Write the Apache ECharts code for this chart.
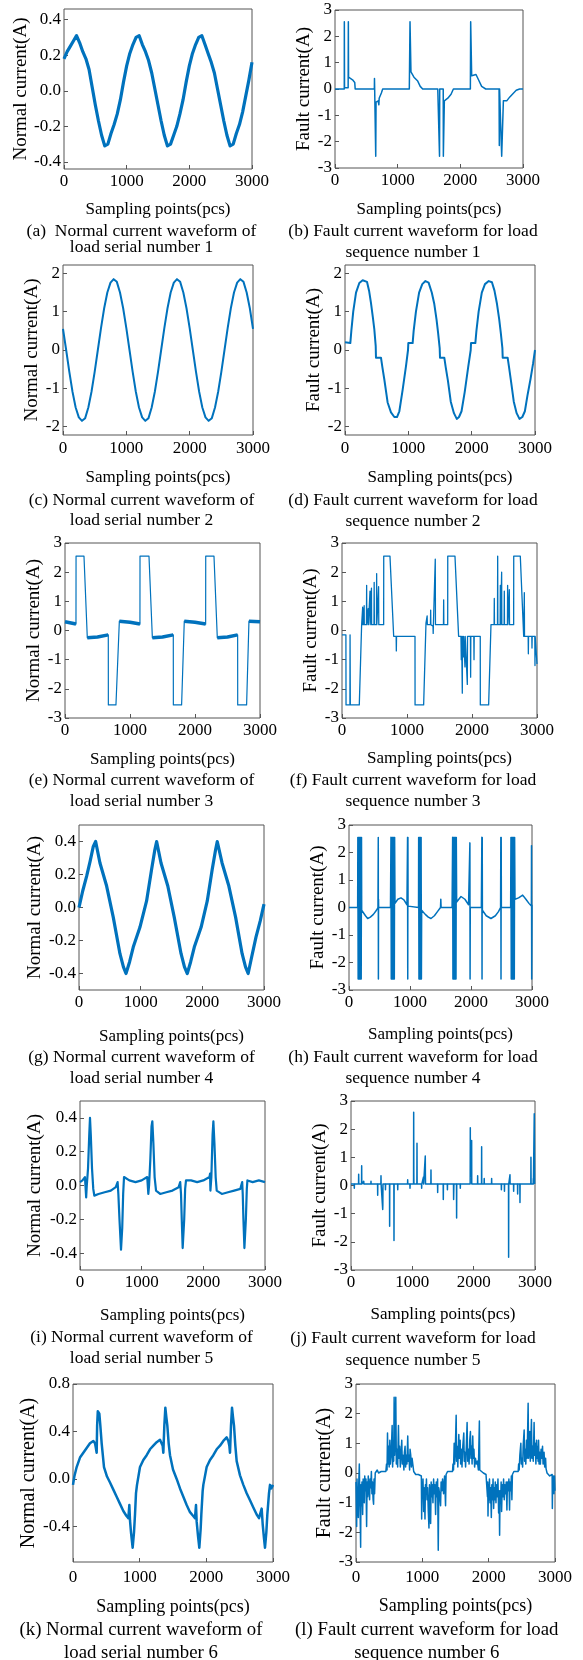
<!DOCTYPE html>
<html><head><meta charset="utf-8">
<script src="https://cdn.jsdelivr.net/npm/echarts@6/dist/echarts.min.js"></script>
<style>html,body{margin:0;padding:0;background:#fff}#chart{width:583px;height:1660px}</style>
</head><body><div id="chart"></div>
<script>
// ---------- tick labels ----------
const xTicks = [0, 1000, 2000, 3000];
const yTicksSmall = [-0.4, -0.2, 0, 0.2, 0.4];
const yTicksFault = [-3, -2, -1, 0, 1, 2, 3];
const yTicksTwo = [-2, -1, 0, 1, 2];
const yTicksSix = [-0.4, 0, 0.4, 0.8];

// ---------- captions ----------
const captionsLeft = [
  ['(a)  Normal current waveform of', 'load serial number 1'],
  ['(c) Normal current waveform of', 'load serial number 2'],
  ['(e) Normal current waveform of', 'load serial number 3'],
  ['(g) Normal current waveform of', 'load serial number 4'],
  ['(i) Normal current waveform of', 'load serial number 5'],
  ['(k) Normal current waveform of', 'load serial number 6']
];
const captionsRight = [
  ['(b) Fault current waveform for load', 'sequence number 1'],
  ['(d) Fault current waveform for load', 'sequence number 2'],
  ['(f) Fault current waveform for load', 'sequence number 3'],
  ['(h) Fault current waveform for load', 'sequence number 4'],
  ['(j) Fault current waveform for load', 'sequence number 5'],
  ['(l) Fault current waveform for load', 'sequence number 6']
];

// ---------- series values ([sample, current]) ----------
const normal1 = [[0,0.18],[50,0.22],[100,0.25],[150,0.28],[200,0.31],[250,0.27],[300,0.22],[350,0.18],[400,0.12],[450,0.02],[500,-0.08],[550,-0.17],[600,-0.25],[650,-0.31],[700,-0.30],[750,-0.24],[800,-0.19],[850,-0.13],[900,-0.05],[950,0.05],[1000,0.14],[1050,0.21],[1100,0.26],[1150,0.30],[1200,0.31],[1250,0.26],[1300,0.22],[1350,0.17],[1400,0.10],[1450,0.01],[1500,-0.08],[1550,-0.17],[1600,-0.25],[1650,-0.31],[1700,-0.30],[1750,-0.25],[1800,-0.20],[1850,-0.13],[1900,-0.05],[1950,0.05],[2000,0.14],[2050,0.21],[2100,0.26],[2150,0.30],[2200,0.31],[2250,0.26],[2300,0.21],[2350,0.16],[2400,0.10],[2450,0.01],[2500,-0.08],[2550,-0.17],[2600,-0.25],[2650,-0.31],[2700,-0.30],[2750,-0.24],[2800,-0.19],[2850,-0.12],[2900,-0.03],[2950,0.06],[3000,0.16]];

const fault1 = [[0,0],[148,0],[149,2.55],[152,0.05],[210,0.05],[213,2.55],[216,0.45],[245,0.45],[280,0.35],[315,0.25],[318,0.3],[322,0.0],[335,0],[628,0],[630,0.4],[633,0],[650,-2.55],[655,-0.5],[690,-0.45],[700,-0.6],[705,-0.35],[740,-0.15],[761,0],[1186,0],[1197,2.55],[1212,0.65],[1260,0.45],[1320,0.3],[1360,0.1],[1399,0],[1640,0],[1668,-2.55],[1671,0],[1727,0],[1729,-2.55],[1745,-0.45],[1800,-0.35],[1852,-0.2],[1889,0],[2160,0],[2165,2.55],[2181,0.5],[2250,0.55],[2290,0.35],[2340,0.1],[2405,0],[2618,0],[2622,-2.15],[2626,0],[2656,0],[2660,-2.55],[2687,-0.45],[2740,-0.45],[2790,-0.3],[2850,-0.15],[2892,-0.05],[2946,0],[3000,0]];

const normal2 = [[0,0.55],[50,0.0],[100,-0.57],[150,-1.09],[200,-1.5],[250,-1.76],[300,-1.85],[350,-1.78],[400,-1.5],[450,-1.09],[500,-0.57],[550,0.0],[600,0.57],[650,1.09],[700,1.5],[750,1.76],[800,1.85],[850,1.78],[900,1.5],[950,1.09],[1000,0.57],[1050,0.0],[1100,-0.57],[1150,-1.09],[1200,-1.5],[1250,-1.76],[1300,-1.85],[1350,-1.78],[1400,-1.5],[1450,-1.09],[1500,-0.57],[1550,0.0],[1600,0.57],[1650,1.09],[1700,1.5],[1750,1.76],[1800,1.85],[1850,1.78],[1900,1.5],[1950,1.09],[2000,0.57],[2050,0.0],[2100,-0.57],[2150,-1.09],[2200,-1.5],[2250,-1.76],[2300,-1.85],[2350,-1.78],[2400,-1.5],[2450,-1.09],[2500,-0.57],[2550,0.0],[2600,0.57],[2650,1.09],[2700,1.5],[2750,1.76],[2800,1.85],[2850,1.78],[2900,1.5],[2950,1.09],[3000,0.55]];

const fault2 = [[0,0.2],[10,0.18],[84,0.18],[100,0.5],[130,1.0],[174,1.5],[226,1.75],[279,1.82],[347,1.78],[380,1.55],[410,1.23],[440,0.85],[463,0.54],[485,0.1],[489,-0.2],[568,-0.2],[590,-0.45],[621,-0.77],[673,-1.37],[726,-1.63],[779,-1.75],[821,-1.75],[858,-1.6],[910,-1.04],[963,-0.42],[995,0.0],[1000,0.18],[1068,0.18],[1084,0.5],[1120,1.0],[1170,1.5],[1220,1.72],[1270,1.8],[1320,1.76],[1370,1.5],[1410,1.2],[1445,0.8],[1470,0.45],[1495,0.05],[1500,-0.2],[1568,-0.2],[1590,-0.45],[1625,-0.8],[1670,-1.35],[1720,-1.65],[1765,-1.8],[1800,-1.75],[1840,-1.6],[1890,-1.1],[1945,-0.45],[1985,0.0],[1990,0.18],[2058,0.18],[2075,0.5],[2110,1.0],[2160,1.5],[2210,1.72],[2270,1.8],[2320,1.77],[2360,1.55],[2400,1.2],[2435,0.8],[2460,0.45],[2485,0.05],[2490,-0.2],[2568,-0.2],[2590,-0.45],[2620,-0.8],[2665,-1.35],[2710,-1.65],[2755,-1.8],[2800,-1.75],[2840,-1.6],[2880,-1.2],[2930,-0.75],[2970,-0.35],[3000,0.0]];

const normal3 = [[0,0.3],[20,0.25],[169,0.22],[170,2.55],[292,2.55],[343,-0.25],[500,-0.22],[666,-0.15],[667,-2.55],[784,-2.55],[836,0.32],[1000,0.28],[1153,0.22],[1154,2.55],[1292,2.55],[1344,-0.25],[1500,-0.22],[1666,-0.15],[1667,-2.55],[1794,-2.55],[1835,0.32],[2000,0.28],[2164,0.22],[2165,2.55],[2292,2.55],[2343,-0.25],[2500,-0.22],[2656,-0.15],[2657,-2.55],[2794,-2.55],[2830,0.32],[3000,0.3]];
// noisy plateaus of load 3 (drawn as a thicker band)
const normal3Noisy = [
  [[0,0.3],[20,0.25],[169,0.22]],
  [[343,-0.25],[500,-0.22],[666,-0.15]],
  [[836,0.32],[1000,0.28],[1153,0.22]],
  [[1344,-0.25],[1500,-0.22],[1666,-0.15]],
  [[1835,0.32],[2000,0.28],[2164,0.22]],
  [[2343,-0.25],[2500,-0.22],[2656,-0.15]],
  [[2830,0.32],[3000,0.3]]
];

const fault3 = [[0,-0.15],[60,-0.15],[62,-2.55],[122,-2.55],[124,-0.15],[126,-0.15],[128,-2.55],[266,-2.55],[302,0.2],[316,0.2],[318,0.8],[320,0.2],[330,0.2],[333,0.75],[336,0.2],[339,0.2],[341,0.85],[343,0.2],[376,0.2],[379,1.55],[382,0.2],[400,0.2],[403,0.75],[406,0.2],[428,0.2],[431,1.35],[434,0.2],[450,0.2],[453,1.45],[456,0.2],[492,0.2],[495,1.65],[498,0.2],[530,0.2],[533,1.95],[536,0.2],[560,0.2],[563,1.5],[566,0.2],[641,0.2],[642,2.55],[738,2.55],[795,-0.2],[833,-0.2],[836,-0.7],[839,-0.2],[1123,-0.2],[1124,-2.55],[1256,-2.55],[1292,0.25],[1300,0.2],[1310,0.5],[1313,0.2],[1361,0.2],[1364,0.7],[1367,0.2],[1400,0.15],[1403,-0.1],[1406,0.2],[1432,0.2],[1435,2.45],[1438,0.2],[1561,0.2],[1564,1.05],[1567,0.2],[1626,0.2],[1627,2.55],[1738,2.55],[1794,-0.2],[1830,-0.2],[1835,-1.0],[1840,-0.2],[1848,-0.2],[1851,-2.15],[1854,-0.2],[1865,-0.2],[1868,-0.9],[1871,-0.2],[1889,-0.2],[1892,-1.25],[1895,-0.2],[1925,-0.2],[1928,-1.85],[1931,-0.2],[1976,-0.2],[1979,-1.6],[1982,-0.2],[2028,-0.2],[2031,-1.0],[2034,-0.2],[2127,-0.2],[2128,-2.55],[2256,-2.55],[2292,0.2],[2340,0.2],[2343,1.1],[2346,0.2],[2392,0.2],[2395,2.55],[2398,0.2],[2433,0.2],[2436,1.55],[2439,0.2],[2453,0.2],[2456,2.0],[2459,0.2],[2494,0.2],[2497,1.35],[2500,0.2],[2545,0.2],[2548,1.55],[2551,0.2],[2571,0.2],[2574,1.4],[2577,0.2],[2641,0.2],[2642,2.55],[2743,2.55],[2795,-0.2],[2802,-0.2],[2805,1.3],[2808,-0.2],[2864,-0.2],[2867,-0.8],[2870,-0.2],[2920,-0.2],[2923,-0.6],[2926,-0.2],[2966,-0.2],[2969,-1.2],[2972,-0.2],[2995,-0.2],[3000,-1.15]];

const normal4 = [[0,0.0],[60,0.1],[124,0.19],[180,0.28],[232,0.37],[270,0.4],[340,0.27],[448,0.13],[556,-0.06],[664,-0.28],[720,-0.36],[762,-0.4],[820,-0.33],[880,-0.24],[988,-0.12],[1096,0.04],[1177,0.23],[1230,0.35],[1259,0.4],[1330,0.27],[1440,0.13],[1545,-0.06],[1655,-0.28],[1710,-0.36],[1756,-0.4],[1810,-0.33],[1870,-0.24],[1980,-0.12],[2080,0.04],[2160,0.23],[2215,0.35],[2242,0.4],[2320,0.27],[2430,0.13],[2540,-0.06],[2645,-0.28],[2700,-0.36],[2743,-0.4],[2800,-0.3],[2870,-0.18],[2940,-0.08],[3000,0.02]];

const fault4 = [[0,0],[142,0],[145,2.55],[150,-2.6],[155,2.55],[160,-2.6],[165,2.55],[170,-2.6],[175,2.55],[180,-2.6],[185,2.55],[190,-2.6],[195,2.55],[200,-2.6],[205,2.55],[208,-0.1],[230,-0.15],[270,-0.3],[306,-0.4],[350,-0.35],[400,-0.25],[450,-0.1],[475,0.0],[479,0],[480,2.55],[482,-2.6],[484,0.3],[486,0.0],[680,0.0],[688,2.55],[693,-2.6],[698,2.55],[703,-2.6],[708,2.55],[713,-2.6],[718,2.55],[723,-2.6],[728,2.55],[733,-2.6],[738,2.55],[743,-2.6],[748,2.55],[754,0.15],[800,0.3],[852,0.35],[900,0.28],[950,0.1],[958,0.05],[960,2.55],[963,-2.6],[966,2.55],[968,0.05],[1000,0.0],[1140,0.0],[1142,2.55],[1147,-2.6],[1152,2.55],[1157,-2.6],[1162,2.55],[1167,-2.6],[1172,2.55],[1177,-2.6],[1182,2.55],[1187,-2.6],[1191,-0.1],[1250,-0.25],[1300,-0.35],[1344,-0.4],[1400,-0.3],[1450,-0.15],[1500,0.0],[1505,0.3],[1510,0.0],[1690,0.0],[1699,2.55],[1704,-2.6],[1709,2.55],[1714,-2.6],[1719,2.55],[1724,-2.6],[1729,2.55],[1734,-2.6],[1739,2.55],[1744,-2.6],[1749,2.55],[1754,-2.6],[1759,2.55],[1765,0.2],[1800,0.3],[1836,0.4],[1900,0.3],[1960,0.1],[1980,0.05],[1982,2.35],[1985,-2.6],[1988,0.0],[2170,0.0],[2178,2.55],[2181,-2.6],[2184,2.55],[2187,-0.1],[2250,-0.3],[2327,-0.4],[2400,-0.3],[2450,-0.15],[2485,0.0],[2489,2.55],[2492,-2.6],[2495,2.55],[2498,0.0],[2650,0.0],[2655,2.55],[2660,-2.6],[2665,2.55],[2670,-2.6],[2675,2.55],[2680,-2.6],[2685,2.55],[2690,-2.6],[2695,2.55],[2700,-2.6],[2705,2.55],[2710,-2.6],[2715,2.55],[2721,0.3],[2780,0.35],[2847,0.45],[2900,0.3],[2950,0.15],[2990,0.05],[2992,2.25],[2995,-2.6],[3000,0.1]];

const normal5 = [[0,0.02],[40,0.03],[80,0.05],[95,0.06],[100,-0.07],[110,0.0],[130,0.1],[150,0.3],[162,0.4],[175,0.3],[195,0.1],[215,-0.02],[232,-0.06],[300,-0.05],[400,-0.04],[500,-0.03],[580,-0.01],[610,0.02],[622,-0.05],[640,-0.2],[665,-0.38],[685,-0.25],[700,-0.05],[714,0.05],[800,0.03],[900,0.02],[1000,0.03],[1090,0.05],[1100,0.06],[1108,-0.05],[1120,0.0],[1140,0.15],[1160,0.35],[1173,0.38],[1190,0.25],[1210,0.05],[1233,-0.03],[1300,-0.05],[1400,-0.04],[1500,-0.03],[1600,-0.01],[1625,0.02],[1638,-0.05],[1650,-0.2],[1665,-0.37],[1690,-0.2],[1705,-0.02],[1719,0.03],[1800,0.03],[1900,0.02],[2000,0.03],[2100,0.05],[2109,0.07],[2115,-0.03],[2130,0.05],[2150,0.3],[2163,0.38],[2180,0.25],[2200,0.05],[2217,-0.03],[2300,-0.05],[2400,-0.04],[2500,-0.03],[2600,-0.02],[2630,0.02],[2639,-0.05],[2650,-0.2],[2666,-0.37],[2690,-0.2],[2705,-0.02],[2715,0.03],[2800,0.02],[2900,0.03],[3000,0.02]];

const fault5 = [[0,0.05],[52,0.05],[54,-0.1],[56,0.05],[123,0.05],[125,0.4],[127,0.05],[172,0.05],[174,0.7],[176,0.05],[206,0.05],[208,0.15],[210,0.05],[324,0.05],[326,0.15],[328,0.05],[433,0.05],[435,-0.35],[437,0.05],[487,0.05],[489,0.35],[491,0.05],[515,0.05],[517,-0.85],[519,-0.7],[521,0.05],[560,0.05],[562,-0.15],[564,0.05],[628,0.05],[630,-1.45],[632,0.05],[699,0.05],[701,-1.95],[703,0.05],[760,0.05],[762,-0.15],[764,0.05],[922,0.05],[924,0.2],[926,0.05],[960,0.05],[962,-0.1],[964,0.05],[1020,0.05],[1022,2.6],[1024,0.45],[1026,0.05],[1074,0.05],[1076,1.5],[1078,0.05],[1150,0.05],[1152,-0.1],[1154,0.05],[1180,0.05],[1182,0.3],[1184,0.05],[1209,0.05],[1211,1.05],[1213,0.4],[1215,0.05],[1302,0.05],[1304,0.55],[1306,0.05],[1411,0.05],[1413,-0.25],[1415,0.05],[1503,0.05],[1505,-0.5],[1507,0.05],[1570,0.05],[1572,-0.15],[1574,0.05],[1671,0.05],[1673,-0.5],[1676,-0.55],[1678,0.05],[1720,0.05],[1722,-1.15],[1724,0.05],[1780,0.05],[1782,-0.1],[1784,0.05],[1943,0.05],[1945,2.05],[1947,0.3],[1965,0.3],[1967,1.6],[1969,0.05],[2063,0.05],[2065,0.35],[2067,0.05],[2128,0.05],[2130,1.38],[2132,0.05],[2170,0.05],[2172,0.25],[2174,0.05],[2291,0.05],[2293,0.25],[2295,0.05],[2450,0.05],[2452,-0.15],[2454,0.05],[2500,0.05],[2502,-0.2],[2504,0.05],[2568,0.05],[2570,-2.55],[2572,0.05],[2590,0.05],[2592,0.38],[2594,0.05],[2650,0.05],[2652,-0.2],[2654,0.05],[2715,0.05],[2717,-0.3],[2719,0.05],[2753,0.05],[2755,-0.6],[2757,0.05],[2850,0.05],[2852,0.1],[2854,0.05],[2932,0.05],[2934,1.0],[2936,0.05],[2970,0.05],[2972,0.25],[2974,0.05],[2986,0.05],[2988,2.55],[2992,2.55],[2994,0.05],[3000,0.05]];

const normal6 = [[0,-0.05],[20,0.02],[55,0.1],[105,0.18],[155,0.22],[205,0.26],[255,0.3],[305,0.32],[330,0.3],[340,0.27],[355,0.22],[362,0.45],[372,0.57],[395,0.55],[410,0.45],[430,0.3],[465,0.1],[510,0.02],[555,-0.03],[605,-0.09],[655,-0.15],[705,-0.21],[755,-0.27],[800,-0.31],[830,-0.33],[845,-0.22],[855,-0.35],[870,-0.45],[895,-0.58],[915,-0.45],[930,-0.3],[945,-0.12],[960,-0.05],[1005,0.1],[1055,0.16],[1105,0.2],[1155,0.25],[1205,0.28],[1255,0.31],[1305,0.33],[1330,0.32],[1345,0.28],[1355,0.22],[1370,0.45],[1385,0.6],[1400,0.52],[1415,0.45],[1435,0.3],[1455,0.2],[1500,0.08],[1555,0.0],[1605,-0.08],[1655,-0.15],[1705,-0.22],[1755,-0.28],[1800,-0.31],[1830,-0.33],[1845,-0.22],[1855,-0.36],[1875,-0.48],[1895,-0.58],[1915,-0.42],[1925,-0.3],[1945,-0.1],[1955,-0.05],[2005,0.1],[2055,0.16],[2105,0.2],[2155,0.25],[2205,0.28],[2255,0.32],[2305,0.35],[2330,0.32],[2345,0.28],[2355,0.22],[2370,0.45],[2385,0.6],[2400,0.52],[2415,0.45],[2435,0.28],[2455,0.15],[2505,0.03],[2555,-0.05],[2605,-0.12],[2655,-0.18],[2705,-0.24],[2755,-0.3],[2790,-0.33],[2815,-0.33],[2830,-0.25],[2845,-0.38],[2865,-0.5],[2880,-0.58],[2900,-0.45],[2915,-0.3],[2940,-0.12],[2955,-0.05],[2975,-0.08],[3000,-0.05]];

const fault6 = [[0,-0.3],[10,-1.8],[15,-0.2],[25,-1.0],[35,-1.5],[42,-0.3],[50,0.3],[55,-0.5],[62,-1.3],[70,-2.5],[75,-0.4],[82,-1.1],[90,-0.3],[100,-1.4],[108,-0.2],[115,-0.9],[125,-1.0],[132,-0.1],[140,-0.6],[150,-0.2],[160,-1.8],[167,-0.3],[175,-0.8],[185,-0.1],[195,-0.6],[205,-0.9],[212,-0.2],[222,-0.5],[232,0.05],[240,-0.7],[248,-0.3],[258,-0.9],[265,-1.05],[272,-0.2],[280,-0.7],[290,0.0],[300,0.05],[320,0.1],[340,0.0],[380,0.05],[450,0.05],[460,0.3],[468,0.1],[475,1.35],[482,0.3],[492,0.9],[500,0.2],[510,1.1],[518,0.3],[530,0.6],[545,1.6],[552,0.2],[560,0.9],[568,0.4],[575,2.55],[582,0.6],[590,1.2],[600,2.55],[608,0.3],[618,0.8],[628,0.2],[640,1.6],[648,0.5],[658,0.9],[668,0.2],[680,0.7],[690,1.1],[698,0.3],[710,0.6],[722,0.1],[730,0.7],[740,0.9],[748,0.2],[758,0.6],[768,0.3],[780,1.25],[788,0.4],[798,0.6],[808,0.1],[815,0.8],[825,0.6],[835,0.2],[845,0.5],[860,0.5],[870,0.05],[885,0.0],[900,-0.05],[940,-0.05],[970,0.0],[985,-0.1],[990,-1.55],[996,-0.3],[1003,-0.8],[1010,-0.2],[1020,-1.3],[1027,-0.5],[1033,-0.9],[1040,-1.55],[1047,-0.4],[1055,-0.7],[1062,-0.2],[1070,-0.9],[1080,-0.5],[1090,-1.3],[1100,-1.85],[1108,-0.4],[1115,-0.9],[1125,-1.7],[1133,-0.3],[1142,-0.8],[1150,-0.4],[1160,-1.0],[1170,-0.2],[1180,-0.7],[1190,-0.4],[1200,-1.4],[1210,-0.3],[1220,-0.8],[1230,-0.2],[1240,-2.6],[1248,-0.5],[1260,-0.7],[1275,-1.1],[1283,-0.3],[1295,-0.6],[1305,-0.2],[1320,-0.7],[1335,-0.1],[1350,-1.1],[1358,-0.05],[1380,0.05],[1455,0.05],[1462,0.3],[1470,0.1],[1480,1.0],[1487,0.3],[1495,0.6],[1510,1.95],[1517,0.4],[1525,0.9],[1535,0.2],[1550,1.3],[1558,0.5],[1570,1.1],[1578,0.3],[1590,0.8],[1598,0.2],[1610,0.9],[1625,1.35],[1632,0.4],[1642,0.7],[1652,0.2],[1665,1.0],[1675,1.7],[1683,0.4],[1695,0.8],[1705,0.3],[1715,1.1],[1725,1.4],[1733,0.5],[1742,0.9],[1750,0.3],[1760,1.25],[1768,0.5],[1778,0.8],[1788,0.2],[1800,0.5],[1815,0.3],[1830,0.4],[1845,0.1],[1860,1.75],[1866,0.1],[1880,0.05],[1920,0.0],[1960,-0.05],[1975,-0.1],[1982,-0.8],[1986,-0.3],[1990,-1.45],[1997,-0.4],[2005,-0.9],[2012,-0.2],[2020,-1.0],[2030,-0.5],[2040,-1.5],[2048,-0.4],[2058,-0.9],[2066,-0.2],[2075,-1.2],[2083,-0.5],[2092,-0.9],[2100,-0.3],[2110,-1.0],[2118,-0.4],[2130,-0.8],[2140,-0.2],[2150,-1.35],[2158,-0.6],[2165,-2.1],[2172,-0.6],[2180,-1.0],[2188,-0.3],[2195,-1.3],[2205,-0.4],[2215,-0.8],[2225,-0.2],[2235,-0.9],[2245,-0.4],[2255,-0.7],[2265,-0.3],[2275,-1.25],[2283,-0.3],[2295,-0.6],[2305,-0.2],[2315,-1.25],[2322,-0.3],[2335,-0.6],[2342,-0.1],[2350,-0.9],[2358,-0.05],[2380,0.05],[2445,0.05],[2452,0.3],[2460,0.1],[2470,0.6],[2485,1.0],[2492,0.3],[2500,0.5],[2512,0.2],[2520,0.9],[2535,1.45],[2542,0.4],[2550,0.8],[2560,0.3],[2570,1.1],[2580,0.5],[2595,2.35],[2602,0.5],[2612,0.9],[2620,1.4],[2628,0.4],[2645,1.8],[2652,0.5],[2662,0.9],[2672,0.4],[2685,1.7],[2692,0.6],[2702,1.0],[2712,0.3],[2722,1.1],[2730,0.5],[2740,0.9],[2745,0.4],[2752,1.1],[2760,0.3],[2770,0.7],[2780,0.3],[2790,0.8],[2800,0.5],[2812,0.9],[2820,0.3],[2835,0.7],[2845,0.2],[2858,0.5],[2865,0.15],[2880,0.0],[2920,-0.1],[2950,-0.1],[2957,-0.05],[2960,-1.2],[2965,-0.2],[2975,-0.1],[2985,-0.7],[2992,-0.1],[3000,-0.6]];

// ---------- layout (positions / styles) ----------
const FONT = '"Liberation Serif","Times New Roman",serif';
const BLUE = '#0072BD';
const FRAME = '#555555';
const NORMAL = 'Normal current(A)', FAULT = 'Fault current(A)', XNAME = 'Sampling points(pcs)';

const panels = [
  {data:normal1, ticks:yTicksSmall, dec:1, min:-0.44, max:0.46, yName:NORMAL, box:[64,9,188,160], lw:3.2, yGap:32, xGap:32.5, lm:4, fs:17, nfs:17, yfs:19},
  {data:fault1, ticks:yTicksFault, dec:0, min:-3, max:3, yName:FAULT, box:[335,10,188,158], lw:1.5, yGap:21, xGap:33.5, lm:4.5, fs:17, nfs:17, yfs:19},
  {data:normal2, ticks:yTicksTwo, dec:0, min:-2.22, max:2.22, yName:NORMAL, box:[63,265,190,170], lw:2, yGap:20, xGap:34.5, lm:5, fs:17, nfs:17, yfs:19},
  {data:fault2, ticks:yTicksTwo, dec:0, min:-2.22, max:2.22, yName:FAULT, box:[345,265,190,170], lw:2, yGap:18, xGap:34.5, lm:5, fs:17, nfs:17, yfs:19},
  {data:normal3, ticks:yTicksFault, dec:0, min:-3, max:3, yName:NORMAL, box:[65,543,195,175], lw:1.2, yGap:20.5, xGap:33.5, lm:4, fs:17, nfs:17, yfs:19, noisy:normal3Noisy},
  {data:fault3, ticks:yTicksFault, dec:0, min:-3, max:3, yName:FAULT, box:[342,543,195,175], lw:1.3, yGap:20, xGap:32, lm:4, fs:17, nfs:17, yfs:19},
  {data:normal4, ticks:yTicksSmall, dec:1, min:-0.5, max:0.5, yName:NORMAL, box:[79,825,185,165], lw:3.2, yGap:34.5, xGap:38, lm:4, fs:17, nfs:17, yfs:19},
  {data:fault4, ticks:yTicksFault, dec:0, min:-3, max:3, yName:FAULT, box:[349,825,183,165], lw:1.5, yGap:20, xGap:36.5, lm:4, fs:17, nfs:17, yfs:19},
  {data:normal5, ticks:yTicksSmall, dec:1, min:-0.5, max:0.5, yName:NORMAL, box:[80,1101,185,169], lw:2.2, yGap:35.5, xGap:37.5, lm:4.5, fs:17, nfs:17, yfs:19},
  {data:fault5, ticks:yTicksFault, dec:0, min:-3, max:3, yName:FAULT, box:[351,1101,184,169], lw:1.5, yGap:21, xGap:36.5, lm:4.5, fs:17, nfs:17, yfs:19},
  {data:normal6, ticks:yTicksSix, dec:1, min:-0.7, max:0.8, yName:NORMAL, box:[73,1384,200,178], lw:2.5, yGap:33.5, xGap:36, lm:7.5, fs:17, nfs:18, yfs:20},
  {data:fault6, ticks:yTicksFault, dec:0, min:-3, max:3, yName:FAULT, box:[356,1384,199,178], lw:1.5, yGap:20, xGap:35.5, lm:7.5, fs:17, nfs:18, yfs:20}
];

// caption positions: [centerX, line1Y, line2Y, fontSize]
const capPosLeft = [[141.5,231,247,17.5],[141.5,500,520.5,17.5],[141.5,780.7,801.7,17.5],[141.5,1057.7,1078.3,17.5],[141.5,1337.7,1358.3,17.5],[141,1630,1652.7,18.8]];
const capPosRight = [[413,231,252,17.5],[413,500,521.7,17.5],[413,780.7,801.7,17.5],[413,1057.3,1078.3,17.5],[413,1338.3,1360,17.5],[426.8,1630,1652.7,18.8]];

const grids = [], xAxes = [], yAxes = [], series = [], graphics = [];
panels.forEach((p, i) => {
  grids.push({left:p.box[0], top:p.box[1], width:p.box[2], height:p.box[3], show:true, borderColor:FRAME, borderWidth:1, containLabel:false, outerBoundsMode:'none'});
  xAxes.push({
    type:'value', gridIndex:i, min:0, max:3000, interval:1000, position:'bottom',
    name:XNAME, nameLocation:'middle', nameGap:p.xGap,
    nameTextStyle:{fontFamily:FONT, fontSize:p.nfs, color:'#000'},
    axisLine:{show:false, onZero:false}, splitLine:{show:false},
    axisTick:{show:true, inside:true, length:4, lineStyle:{color:FRAME}},
    axisLabel:{fontFamily:FONT, fontSize:p.fs, color:'#000', margin:p.lm, customValues:xTicks, showMinLabel:true, showMaxLabel:true,
      formatter: v => String(Math.round(v))}
  });
  const dec = p.dec;
  yAxes.push({
    type:'value', gridIndex:i, min:p.min, max:p.max, position:'left',
    name:p.yName, nameLocation:'middle', nameGap:p.yGap,
    nameTextStyle:{fontFamily:FONT, fontSize:p.yfs, color:'#000'},
    axisLine:{show:false, onZero:false}, splitLine:{show:false},
    axisTick:{show:true, inside:true, length:4, lineStyle:{color:FRAME}, customValues:p.ticks},
    axisLabel:{fontFamily:FONT, fontSize:p.fs, color:'#000', margin:3, customValues:p.ticks,
      formatter: v => (Math.abs(v) < 1e-9 ? 0 : v).toFixed(dec)}
  });
  series.push({type:'line', xAxisIndex:i, yAxisIndex:i, data:p.data, showSymbol:false, symbol:'none',
    lineStyle:{color:BLUE, width:p.lw, join:'round'}, animation:false, silent:true, z:3});
  if (p.noisy) {
    p.noisy.forEach(seg => series.push({type:'line', xAxisIndex:i, yAxisIndex:i, data:seg, showSymbol:false, symbol:'none',
      lineStyle:{color:BLUE, width:3.5}, animation:false, silent:true, z:2}));
  }
});

function addCaption(pos, lines) {
  graphics.push({type:'text', x:pos[0], y:pos[1], style:{text:lines[0], fill:'#000', font:pos[3]+'px '+FONT, textAlign:'center', textVerticalAlign:'middle'}});
  graphics.push({type:'text', x:pos[0], y:pos[2], style:{text:lines[1], fill:'#000', font:pos[3]+'px '+FONT, textAlign:'center', textVerticalAlign:'middle'}});
}
captionsLeft.forEach((c, k) => addCaption(capPosLeft[k], c));
captionsRight.forEach((c, k) => addCaption(capPosRight[k], c));

const chart = echarts.init(document.getElementById('chart'), null, {renderer:'canvas', width:583, height:1660});
chart.setOption({
  animation:false,
  backgroundColor:'#ffffff',
  grid:grids, xAxis:xAxes, yAxis:yAxes, series:series,
  graphic:graphics
});
</script>
</body></html>
